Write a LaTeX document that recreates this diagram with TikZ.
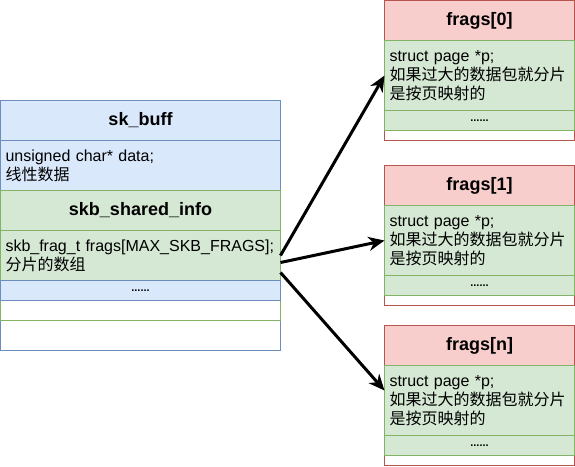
\documentclass[tikz,border=0pt]{standalone}
\usepackage{fontspec}
\setmainfont{Liberation Sans}
\newfontfamily\cjk{Noto Sans CJK SC}
\usetikzlibrary{arrows.meta,positioning}
\definecolor{cbluefill}{HTML}{DAE8FC}
\definecolor{cblueline}{HTML}{6C8EBF}
\definecolor{cgreenfill}{HTML}{D5E8D4}
\definecolor{cgreenline}{HTML}{82B366}
\definecolor{credfill}{HTML}{F8CECC}
\definecolor{credline}{HTML}{B85450}
\newcommand{\zh}[1]{{\cjk #1}}
\tikzset{
  cell/.style={draw, rectangle, inner sep=0pt, outer sep=0pt, line width=1pt},
  bluecell/.style={cell, draw=cblueline, fill=cbluefill},
  greencell/.style={cell, draw=cgreenline, fill=cgreenfill},
  redcell/.style={cell, draw=credline, fill=credfill},
  hdr/.style={font=\fontsize{18}{22}\selectfont\bfseries, minimum height=40},
  body/.style={font=\fontsize{16}{19.2}\selectfont, align=left, inner xsep=5pt},
  dotrow/.style={font=\fontsize{11}{13}\selectfont\bfseries, minimum height=20},
  ptr/.style={line width=3pt, -{Stealth[length=16pt,width=14pt,inset=5pt]}}
}

\begin{document}
\begin{tikzpicture}[x=1pt,y=-1pt]
    \useasboundingbox (0,0) rectangle (575,466);
    % sk_buff on the left
    \node[bluecell, fill=white, anchor=north west, minimum width=280, minimum height=250] (skbox) at (0.5,100.5) {};
    \node[bluecell, hdr, anchor=north west, minimum width=280] (skb) at (skbox.north west) {sk\_buff};
    \node[bluecell, body, text width=270, minimum height=50, below=0pt of skb] (data) {unsigned char* data;\\\zh{线性数据}};
    \node[greencell, fill=white, minimum width=280, minimum height=130, below=0pt of data] (shbox) {};
    \node[greencell, hdr, minimum width=280, below=0pt of shbox.north] (shhdr) {skb\_shared\_info};
    \node[greencell, body, text width=270, minimum height=50, below=0pt of shhdr] (fld) {skb\_frag\_t frags[MAX\_SKB\_FRAGS];\\\zh{分片的数组}};
    \node[bluecell, dotrow, minimum width=280, below=0pt of fld] (ldots) {......};

    % frags[0]
    \begin{scope}[shift={(384.5,0.5)}]
      \node[redcell, fill=white, anchor=north west, minimum width=190, minimum height=140] (f0box) at (0,0) {};
      \node[redcell, hdr, minimum width=190, below=0pt of f0box.north] (f0hdr) {frags[0]};
      \node[greencell, body, text width=180, minimum height=70, below=0pt of f0hdr] (f0body) {struct page *p;\\\zh{如果过大的数据包就分片}\\\zh{是按页映射的}};
      \node[greencell, dotrow, minimum width=190, below=0pt of f0body] (f0dots) {......};
    \end{scope}
    % frags[1]
    \begin{scope}[shift={(384.5,165.5)}]
      \node[redcell, fill=white, anchor=north west, minimum width=190, minimum height=140] (f1box) at (0,0) {};
      \node[redcell, hdr, minimum width=190, below=0pt of f1box.north] (f1hdr) {frags[1]};
      \node[greencell, body, text width=180, minimum height=70, below=0pt of f1hdr] (f1body) {struct page *p;\\\zh{如果过大的数据包就分片}\\\zh{是按页映射的}};
      \node[greencell, dotrow, minimum width=190, below=0pt of f1body] (f1dots) {......};
    \end{scope}
    % frags[n]
    \begin{scope}[shift={(384.5,325.5)}]
      \node[redcell, fill=white, anchor=north west, minimum width=190, minimum height=140] (fnbox) at (0,0) {};
      \node[redcell, hdr, minimum width=190, below=0pt of fnbox.north] (fnhdr) {frags[n]};
      \node[greencell, body, text width=180, minimum height=70, below=0pt of fnhdr] (fnbody) {struct page *p;\\\zh{如果过大的数据包就分片}\\\zh{是按页映射的}};
      \node[greencell, dotrow, minimum width=190, below=0pt of fnbody] (fndots) {......};
    \end{scope}

    % pointers
    \draw[ptr] (fld.east) -- (f0body.west);
    \draw[ptr] ([yshift=-7pt]fld.east) -- (f1body.west);
    \draw[ptr] ([yshift=-17pt]fld.east) -- ([yshift=10pt]fnbody.west);
  \end{tikzpicture}
\end{document}
